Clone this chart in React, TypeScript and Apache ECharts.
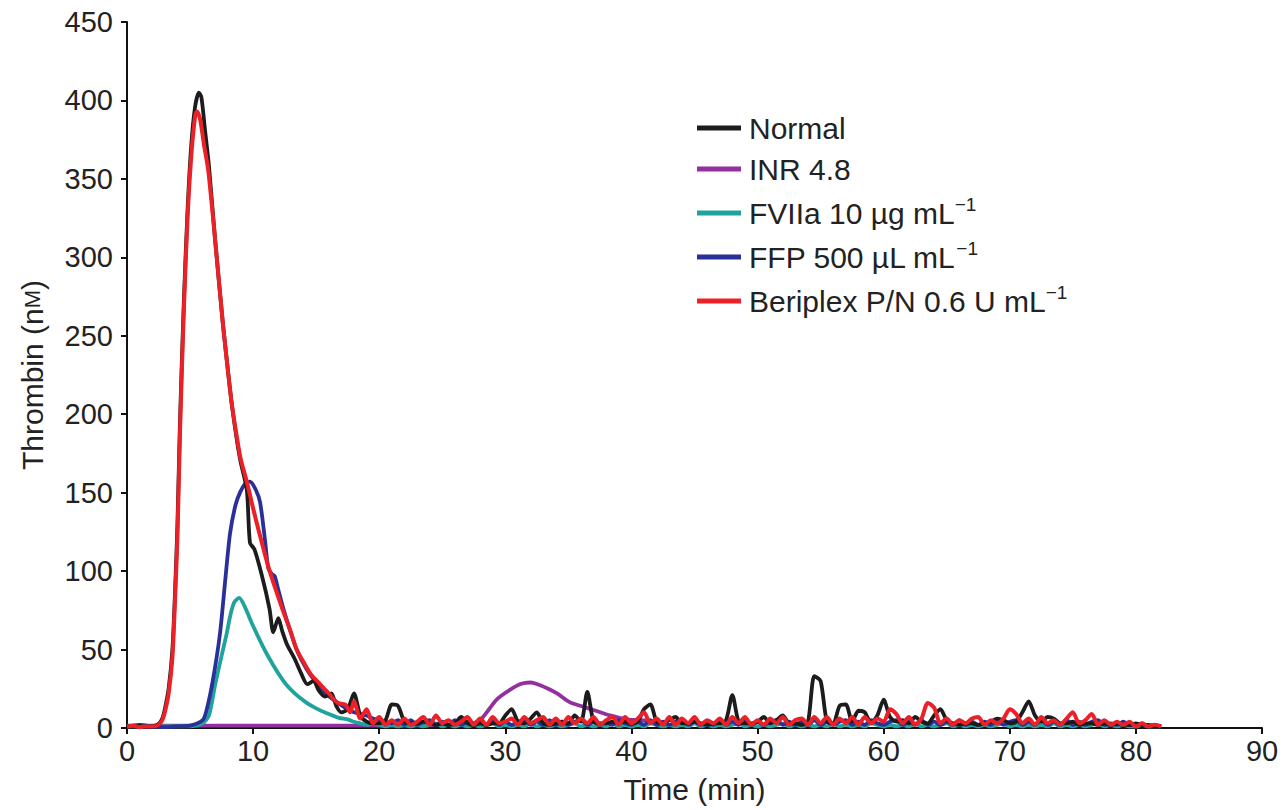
import React, { useEffect, useRef } from "react";
import * as echarts from "echarts";

// ---- Data ----
const seriesNames = ["Normal", "INR 4.8", "FVIIa 10 µg mL", "FFP 500 µL mL", "Beriplex P/N 0.6 U mL"];
const xTicks = [0, 10, 20, 30, 40, 50, 60, 70, 80, 90];
const yTicks = [0, 50, 100, 150, 200, 250, 300, 350, 400, 450];

// peak phase [time (min), thrombin (nM)]
const normalPeak = [[0,1],[0.5,1],[1,1.5],[1.5,0.5],[2,1],[2.5,2.5],[2.8,6],[3.0,12],[3.3,25],[3.6,50],[3.8,85],[4.0,130],[4.2,195],[4.5,270],[4.8,330],[5.1,372],[5.4,396],[5.7,405],[5.9,402],[6.2,380],[6.5,358],[7.0,310],[7.6,258],[8.0,228],[8.3,207],[8.7,184],[9.0,170],[9.5,152],[9.75,118],[10.1,114],[10.7,97],[11.3,76],[11.6,61],[12.0,70],[12.3,62],[12.7,53],[13.3,44],[13.8,35],[14.3,28],[14.8,30],[15.2,24],[15.7,20],[16.2,22],[16.6,14],[17.0,10],[17.5,12]];
const inrPeak = [[0,1.5],[5,1.5],[10,1.5],[15,1.5],[20,1.5],[25,1.8],[27,2.5],[28,5],[29.3,18],[30.3,24],[31.2,28],[32.0,29],[32.5,28],[33.4,25],[34.1,22],[35.1,16.5],[36.0,14],[37.0,11.5],[38.3,8],[39.6,5.5],[40.7,5],[41.5,4.5]];
const fviiaPeak = [[0,1],[2,1],[4,1],[5,1],[6,3],[6.5,8],[7.0,28],[7.5,46],[7.9,60],[8.2,72],[8.5,80],[8.9,83],[9.3,78],[10.0,65],[11.1,47],[12.4,30],[13.3,22],[14.25,16],[15.0,12.5],[15.8,9.5],[16.8,6.5],[17.5,5.5]];
const ffpPeak = [[0,1],[1,2],[2,1],[3,0.5],[4,1],[5,1.5],[6.0,5],[6.3,11],[6.8,30],[7.37,60],[7.8,95],[8.17,124],[8.6,142],[8.96,150],[9.4,156],[9.75,157],[10.2,152],[10.55,144],[10.94,120],[11.2,102],[11.5,98],[11.7,97],[12.0,88],[12.4,76],[12.9,63],[13.45,50],[14.2,38],[15.0,29],[15.9,21],[16.9,15],[17.5,12]];
const beriplexPeak = [[0,1],[0.5,1.5],[1,0.5],[1.5,1],[2,1],[2.5,2],[2.8,5],[3.0,10],[3.3,22],[3.6,45],[3.8,80],[4.0,122],[4.2,188],[4.5,265],[4.8,325],[5.1,365],[5.4,390],[5.55,393],[5.8,388],[6.1,372],[6.45,355],[7.06,305],[7.6,258],[8.0,228],[8.3,207],[8.7,186],[9.0,172],[9.5,157],[10.0,140],[10.5,124],[11.2,103],[11.8,88],[12.4,74],[13.0,61],[13.45,50],[14.0,42],[14.6,34],[15.3,28],[16.0,22],[16.7,16],[17.3,15],[17.7,10]];

// baseline phase, sampled every 0.5 min from 18 to 82 min
const noiseStart = 18;
const noiseStep = 0.5;
const normalNoise = [
  22, 8, 4, 3, 3, 5, 15, 14, 4, 3,
  3, 4, 3, 2, 3, 2, 3, 7, 3, 2,
  3, 2, 3, 3, 8, 12, 4, 3, 6, 10,
  3, 2, 3, 4, 3, 8, 4, 23, 4, 3,
  3, 4, 3, 4, 3, 4, 12, 15, 4, 3,
  5, 7, 3, 3, 4, 3, 2, 3, 3, 5,
  21, 4, 3, 3, 4, 7, 3, 5, 8, 3,
  3, 2, 4, 33, 30, 4, 3, 14, 15, 4,
  11, 10, 3, 8, 18, 7, 4, 5, 3, 7,
  4, 3, 8, 12, 5, 3, 2, 3, 3, 2,
  3, 4, 6, 5, 3, 4, 10, 17, 8, 4,
  7, 6, 3, 3, 4, 2, 3, 3, 2, 3,
  2, 3, 2, 2, 3, 2, 2, 1, 1,
];
const beriplexNoise = [
  17, 6, 12, 3, 7, 2, 5, 2, 6, 2,
  4, 7, 2, 8, 3, 5, 2, 4, 7, 2,
  6, 2, 7, 3, 4, 6, 2, 7, 3, 5,
  7, 2, 6, 2, 7, 3, 6, 3, 7, 2,
  5, 7, 2, 7, 3, 6, 10, 3, 6, 2,
  7, 2, 6, 3, 7, 2, 5, 3, 6, 2,
  7, 3, 7, 2, 5, 2, 6, 3, 7, 2,
  5, 6, 2, 7, 3, 7, 2, 6, 3, 7,
  2, 7, 3, 6, 4, 12, 9, 3, 7, 2,
  6, 16, 13, 3, 6, 2, 5, 3, 6, 7,
  2, 5, 3, 6, 12, 9, 3, 6, 2, 7,
  3, 5, 2, 6, 10, 3, 5, 9, 2, 5,
  2, 4, 2, 4, 1, 3, 1, 2, 1,
];
const ffpNoise = [
  10, 9, 8, 6, 5, 4, 3, 5, 2, 5,
  2, 4, 5, 2, 4, 2, 5, 2, 4, 2,
  4, 2, 5, 2, 4, 2, 4, 5, 2, 4,
  2, 5, 2, 4, 2, 4, 5, 2, 4, 2,
  4, 2, 5, 3, 2, 4, 2, 5, 2, 4,
  2, 4, 5, 2, 4, 2, 4, 2, 5, 2,
  4, 2, 5, 2, 4, 2, 4, 5, 2, 4,
  2, 4, 2, 5, 2, 4, 2, 4, 5, 2,
  4, 2, 5, 3, 2, 4, 5, 2, 4, 2,
  5, 2, 4, 2, 4, 2, 5, 2, 4, 2,
  4, 2, 5, 2, 4, 5, 2, 4, 2, 5,
  2, 4, 2, 5, 2, 4, 2, 4, 5, 2,
  3, 2, 4, 2, 2, 3, 1, 2, 1,
];
const fviiaNoise = [
  4, 3, 2, 3, 2, 1, 2, 1, 2, 1,
  2, 1, 2, 3, 1, 2, 1, 2, 1, 2,
  1, 2, 3, 1, 2, 1, 2, 1, 3, 1,
  2, 1, 2, 1, 2, 3, 1, 2, 1, 2,
  1, 3, 1, 2, 1, 2, 1, 3, 2, 1,
  2, 1, 2, 1, 3, 1, 2, 1, 2, 1,
  2, 3, 1, 2, 1, 2, 1, 2, 3, 1,
  2, 1, 2, 1, 2, 1, 3, 1, 2, 1,
  2, 1, 3, 2, 1, 2, 1, 2, 1, 3,
  1, 2, 1, 2, 3, 1, 2, 1, 2, 1,
  2, 1, 2, 3, 1, 2, 1, 2, 1, 2,
  1, 3, 1, 2, 1, 2, 1, 2, 3, 1,
  2, 1, 2, 1, 1, 2, 1, 1, 1,
];

const colors = {
  normal: "#1c1c1c",
  inr: "#9330a0",
  fviia: "#1fa39c",
  ffp: "#2b2f98",
  beriplex: "#ec2027",
};

function withNoise(peak: number[][], noise: number[]) {
  return peak.concat(noise.map((v, i) => [noiseStart + i * noiseStep, v]));
}

const FONT = "'Liberation Sans', Arial, Helvetica, sans-serif";
const TEXT = "#222";

export default function App() {
  const ref = useRef<HTMLDivElement>(null);
  useEffect(() => {
    if (!ref.current) return;
    const chart = echarts.init(ref.current, null, { renderer: "svg" });
    const mk = (name: string, color: string, data: number[][], width = 3.8) => ({
      name,
      type: "line",
      data,
      showSymbol: false,
      symbol: "none",
      smooth: 0.25,
      lineStyle: { color, width },
      itemStyle: { color },
      z: 2,
    });
    const legendFmt = (name: string) => {
      if (name === "Normal" || name === "INR 4.8") return `{t|${name}}`;
      return `{t|${name}}{s|−1}`;
    };
    chart.setOption({
      animation: false,
      backgroundColor: "#fff",
      textStyle: { fontFamily: FONT },
      grid: { left: 127, right: 26, top: 22, bottom: 82, containLabel: false },
      legend: {
        orient: "vertical",
        left: 692,
        top: 108,
        itemWidth: 44,
        itemHeight: 5,
        itemGap: 11,
        icon: "rect",
        data: seriesNames,
        formatter: legendFmt,
        textStyle: {
          fontFamily: FONT,
          color: TEXT,
          rich: {
            t: { fontSize: 30, lineHeight: 36, color: TEXT, fontFamily: FONT, padding: [0, 0, 0, 3] },
            s: { fontSize: 19, lineHeight: 19, color: TEXT, fontFamily: FONT, verticalAlign: "top" },
          },
        },
      },
      xAxis: {
        type: "value",
        min: 0,
        max: 90,
        interval: 10,
        name: "Time (min)",
        nameLocation: "middle",
        nameGap: 46,
        nameTextStyle: { fontSize: 30, color: TEXT, fontFamily: FONT },
        axisLine: { show: true, onZero: true, lineStyle: { color: "#111", width: 2 } },
        axisTick: { show: true, length: 6, lineStyle: { color: "#111", width: 2 } },
        axisLabel: { fontSize: 29, color: TEXT, margin: 8, fontFamily: FONT },
        splitLine: { show: false },
      },
      yAxis: {
        type: "value",
        min: 0,
        max: 450,
        interval: 50,
        name: "Thrombin (n{sc|M})",
        nameLocation: "middle",
        nameGap: 80,
        nameRotate: 90,
        nameTextStyle: {
          fontSize: 30,
          color: TEXT,
          fontFamily: FONT,
          rich: { sc: { fontSize: 22, color: TEXT, fontFamily: FONT } },
        },
        axisLine: { show: true, lineStyle: { color: "#111", width: 2 } },
        axisTick: { show: true, length: 6, lineStyle: { color: "#111", width: 2 } },
        axisLabel: { fontSize: 29, color: TEXT, margin: 14, fontFamily: FONT },
        splitLine: { show: false },
      },
      series: [
        mk(seriesNames[1], colors.inr, inrPeak),
        mk(seriesNames[2], colors.fviia, withNoise(fviiaPeak, fviiaNoise)),
        mk(seriesNames[3], colors.ffp, withNoise(ffpPeak, ffpNoise)),
        mk(seriesNames[0], colors.normal, withNoise(normalPeak, normalNoise)),
        mk(seriesNames[4], colors.beriplex, withNoise(beriplexPeak, beriplexNoise), 4),
      ],
    });
    return () => chart.dispose();
  }, []);
  return (
    <div
      ref={ref}
      style={{ position: "fixed", left: 0, top: 0, width: 1288, height: 810, background: "#fff" }}
    />
  );
}

// keep tick arrays referenced (axes use min/max/interval derived from them)
void xTicks;
void yTicks;
